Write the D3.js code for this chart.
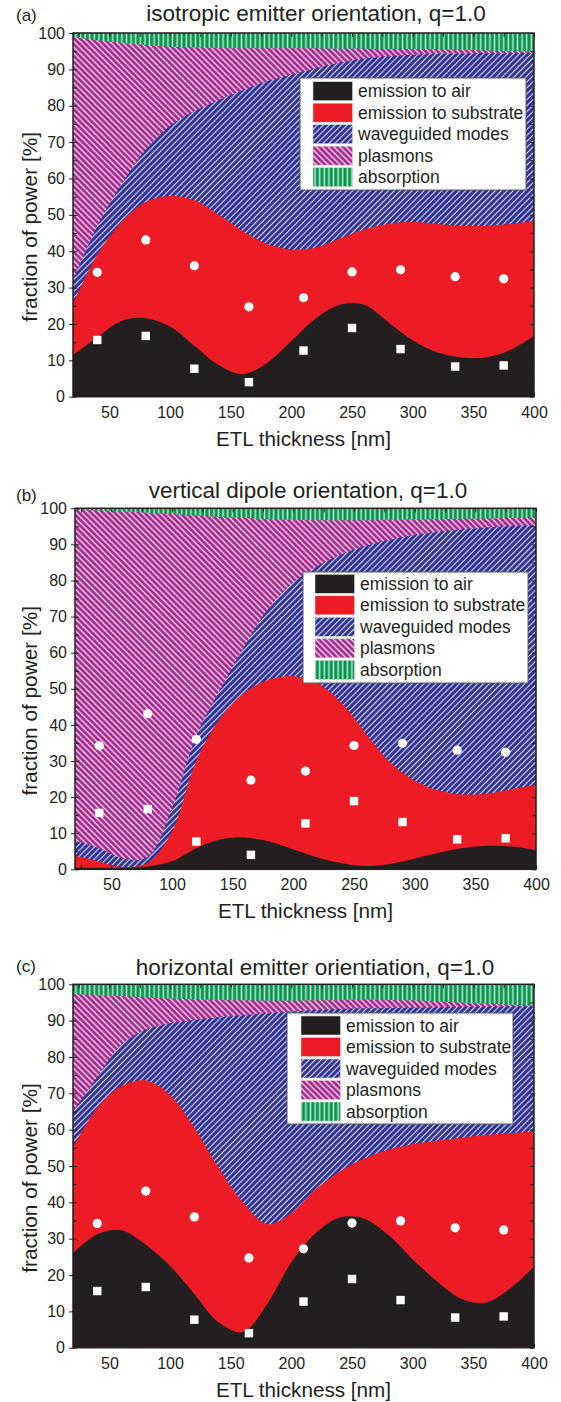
<!DOCTYPE html>
<html>
<head>
<meta charset="utf-8">
<script src="https://cdn.jsdelivr.net/npm/d3@7"></script>
<style>
  body { margin: 0; background: #fff; }
  svg text { font-family: "Liberation Sans", Arial, sans-serif; fill: #231f20; }
</style>
</head>
<body>
<svg id="chart" width="561" height="1402"></svg>
<script>
// ETL thickness sample points (nm)
var thickness = [20, 40, 60, 80, 100, 120, 140, 160, 180, 200, 220, 240, 260, 280, 300, 320, 340, 360, 380, 400];

// cumulative upper edge of each layer (%) - isotropic
var isoAir = [11.5, 16.3, 20.8, 21.6, 19.3, 14, 8.7, 6.2, 9.3, 15.3, 21.5, 25.3, 25.3, 20.5, 15.5, 12.2, 10.8, 10.8, 12.8, 16.7];
var isoSub = [25.5, 39, 48, 53.5, 55.2, 54, 50, 45.5, 42, 40.5, 41, 43.5, 46, 47.5, 48, 47.5, 47, 47, 47.5, 48.3];
var isoWg = [32, 47, 58.5, 68, 74.5, 78.5, 81.5, 84.3, 86.7, 88.5, 90.3, 91.8, 93, 93.6, 94, 94.2, 94.3, 94.4, 94.4, 94.5];
var isoPl = [98.8, 98, 97.3, 96.7, 96.2, 96, 95.9, 95.8, 95.8, 95.8, 95.8, 95.7, 95.7, 95.6, 95.6, 95.5, 95.4, 95.2, 95, 94.9];

// vertical dipole
var vertAir = [0.5, 0.4, 0.4, 0.8, 2.2, 5.8, 8.3, 8.8, 7.7, 5.5, 3.3, 1.7, 0.9, 1.5, 3.0, 4.6, 5.9, 6.5, 6.3, 5.3];
var vertSub = [3.8, 2.1, 0.6, 1.8, 10.5, 30, 42, 49, 52.5, 53.5, 51.5, 46, 37.5, 29.5, 24.5, 21.8, 20.7, 21, 22.2, 23.4];
var vertWg = [7.9, 5.8, 2.9, 3.5, 17, 37, 50, 62, 72.5, 79.5, 84, 87.3, 89.6, 91.3, 92.6, 93.5, 94.2, 94.7, 95.1, 95.4];
var vertPl = [99.6, 99.4, 99.1, 98.8, 98.4, 98, 97.6, 97.3, 97, 96.8, 96.7, 96.7, 96.7, 96.8, 96.9, 97, 97.1, 97.2, 97.3, 97.4];

// horizontal emitter
var horAir = [26, 31.2, 32.3, 28.3, 22.5, 14.8, 7.0, 4.3, 12, 23.5, 31.5, 35.8, 35.5, 31, 24.3, 18.3, 13.5, 12.4, 16.2, 22.3];
var horSub = [55, 66, 72, 73.5, 69.5, 60.5, 49.5, 40, 34, 37, 43.5, 48.5, 52, 54.5, 56, 57, 57.8, 58.5, 59, 59.5];
var horWg = [65, 74.5, 83.5, 87.5, 89.3, 90.2, 90.9, 91.5, 92, 92.5, 92.9, 93.2, 93.4, 93.5, 93.6, 93.7, 93.8, 93.8, 93.9, 93.9];
var horPl = [97.3, 97, 96.7, 96.4, 96.1, 95.9, 95.7, 95.6, 95.5, 95.5, 95.6, 95.7, 95.8, 95.7, 95.6, 95.3, 95, 94.7, 94.4, 94.2];

// measured points (same in all panels)
var markerX = [40, 80, 120, 165, 210, 250, 290, 335, 375];
var circleY = [34.2, 43.1, 36.0, 24.7, 27.2, 34.3, 34.9, 33.0, 32.4];
var squareY = [15.6, 16.7, 7.7, 4.0, 12.7, 18.9, 13.1, 8.3, 8.6];

var legendLabels = ["emission to air", "emission to substrate", "waveguided modes", "plasmons", "absorption"];
var xTicks = [50, 100, 150, 200, 250, 300, 350, 400];
var yTicks = [0, 10, 20, 30, 40, 50, 60, 70, 80, 90, 100];

var svg = d3.select("#chart");
var defs = svg.append("defs");

// hatch patterns
function stripes(id, bg, angle, size, lw, op) {
  var pat = defs.append("pattern")
    .attr("id", id)
    .attr("patternUnits", "userSpaceOnUse")
    .attr("width", size)
    .attr("height", size)
    .attr("patternTransform", "rotate(" + angle + ")");
  pat.append("rect").attr("width", size).attr("height", size).attr("fill", bg);
  pat.append("line")
    .attr("x1", size / 2).attr("y1", -1)
    .attr("x2", size / 2).attr("y2", size + 1)
    .attr("stroke", "#fff")
    .attr("stroke-opacity", op)
    .attr("stroke-width", lw);
}
stripes("wg", "#2e3192", 45, 4.2, 1.1, 0.85);
stripes("pl", "#a7278f", -45, 4.2, 1.3, 0.9);
stripes("ab", "#009448", 0, 4.6, 1.6, 0.75);

var fills = ["#231f20", "#ed1c24", "url(#wg)", "url(#pl)", "url(#ab)"];

var panels = [
  { tag: "(a)", title: "isotropic emitter orientation, q=1.0", layers: [isoAir, isoSub, isoWg, isoPl],
    left: 73, right: 534, top: 33, bottom: 396.7, titleX: 316, titleY: 21, tagY: 21,
    legend: { x: 300, y: 78, w: 226, h: 112, sx: 313, sy: 81.7, tx: 358 } },
  { tag: "(b)", title: "vertical dipole orientation, q=1.0", layers: [vertAir, vertSub, vertWg, vertPl],
    left: 75, right: 536, top: 508.3, bottom: 869.3, titleX: 308, titleY: 498, tagY: 501,
    legend: { x: 303, y: 572, w: 225, h: 111, sx: 315, sy: 574.3, tx: 360 } },
  { tag: "(c)", title: "horizontal emitter orientiation, q=1.0", layers: [horAir, horSub, horWg, horPl],
    left: 73, right: 534, top: 984.3, bottom: 1347.7, titleX: 315, titleY: 975, tagY: 972,
    legend: { x: 287, y: 1013, w: 226, h: 111, sx: 301, sy: 1016, tx: 346 } }
];

panels.forEach(function(p, pi) {
  var x = d3.scaleLinear().domain([20, 400]).range([p.left, p.right]);
  var y = d3.scaleLinear().domain([0, 100]).range([p.bottom, p.top]);

  var clipId = "clip" + pi;
  defs.append("clipPath").attr("id", clipId)
    .append("rect")
    .attr("x", p.left).attr("y", p.top)
    .attr("width", p.right - p.left).attr("height", p.bottom - p.top);

  var plot = svg.append("g").attr("clip-path", "url(#" + clipId + ")");

  // absorption fills everything up to 100 %
  plot.append("rect")
    .attr("x", p.left).attr("y", y(100))
    .attr("width", p.right - p.left).attr("height", y(0) - y(100))
    .attr("fill", fills[4]);

  // paint the stacked layers top-down, each one from 0 up to its upper edge
  for (var i = 3; i >= 0; i--) {
    var area = d3.area()
      .x(function(d, j) { return x(thickness[j]); })
      .y0(y(0))
      .y1(function(d) { return y(d); })
      .curve(d3.curveCatmullRom.alpha(0.5));
    plot.append("path")
      .datum(p.layers[i])
      .attr("d", area)
      .attr("fill", fills[i]);
  }

  // measurement markers
  var pts = markerX.map(function(v, j) { return { x: v, c: circleY[j], s: squareY[j] }; });
  plot.selectAll("circle.m").data(pts).enter().append("circle")
    .attr("cx", d => x(d.x))
    .attr("cy", d => y(d.c))
    .attr("r", 4.6)
    .attr("fill", "#fff");
  plot.selectAll("rect.m").data(pts).enter().append("rect")
    .attr("x", d => x(d.x) - 4.2)
    .attr("y", d => y(d.s) - 4.2)
    .attr("width", 8.4)
    .attr("height", 8.4)
    .attr("fill", "#fff");

  // axes
  var ax = svg.append("g");

  ax.append("g")
    .attr("transform", "translate(" + p.left + ",0)")
    .call(d3.axisLeft(y).tickValues(yTicks).tickSize(4).tickPadding(4))
    .call(g => g.select(".domain").remove());
  ax.append("g")
    .attr("transform", "translate(" + p.left + ",0)")
    .call(d3.axisLeft(y).ticks(20).tickSize(-4).tickFormat(""))
    .call(g => g.select(".domain").remove());
  ax.append("g")
    .attr("transform", "translate(" + p.right + ",0)")
    .call(d3.axisRight(y).ticks(20).tickSize(-4).tickFormat(""))
    .call(g => g.select(".domain").remove());

  ax.append("g")
    .attr("transform", "translate(0," + p.bottom + ")")
    .call(d3.axisBottom(x).tickValues(xTicks).tickSize(0).tickPadding(9.6))
    .call(g => g.select(".domain").remove());
  ax.append("g")
    .attr("transform", "translate(0," + p.bottom + ")")
    .call(d3.axisBottom(x).tickValues(d3.range(25, 401, 25)).tickSize(-4).tickFormat(""))
    .call(g => g.select(".domain").remove());
  ax.append("g")
    .attr("transform", "translate(0," + p.top + ")")
    .call(d3.axisTop(x).tickValues(d3.range(25, 401, 25)).tickSize(-4).tickFormat(""))
    .call(g => g.select(".domain").remove());

  ax.selectAll("text")
    .attr("fill", "#231f20")
    .attr("font-size", 16)
    .style("font-family", "Liberation Sans, Arial, sans-serif");
  ax.selectAll(".tick line").attr("stroke", "#231f20").attr("stroke-width", 1);

  svg.append("rect")
    .attr("x", p.left).attr("y", p.top)
    .attr("width", p.right - p.left).attr("height", p.bottom - p.top)
    .attr("fill", "none")
    .attr("stroke", "#231f20")
    .attr("stroke-width", 1.5);

  // titles
  svg.append("text")
    .attr("x", p.titleX).attr("y", p.titleY)
    .attr("text-anchor", "middle")
    .attr("font-size", 22.5)
    .text(p.title);
  svg.append("text")
    .attr("x", 16).attr("y", p.tagY)
    .attr("font-size", 17)
    .text(p.tag);
  svg.append("text")
    .attr("x", (p.left + p.right) / 2).attr("y", p.bottom + 49)
    .attr("text-anchor", "middle")
    .attr("font-size", 20.7)
    .text("ETL thickness [nm]");
  svg.append("text")
    .attr("transform", "translate(36.5," + ((p.top + p.bottom) / 2 + 12) + ") rotate(-90)")
    .attr("text-anchor", "middle")
    .attr("font-size", 20.8)
    .text("fraction of power [%]");

  // legend
  var L = p.legend;
  var leg = svg.append("g");
  leg.append("rect")
    .attr("x", L.x).attr("y", L.y)
    .attr("width", L.w).attr("height", L.h)
    .attr("fill", "#fff")
    .attr("stroke", "#5a5a5a")
    .attr("stroke-width", 1);
  legendLabels.forEach(function(lab, k) {
    var yy = L.sy + k * 21.5;
    leg.append("rect")
      .attr("x", L.sx).attr("y", yy)
      .attr("width", 39.5).attr("height", 19)
      .attr("fill", fills[k])
      .attr("stroke", "#d0d0d0")
      .attr("stroke-width", 0.6);
    leg.append("text")
      .attr("x", L.tx).attr("y", yy + 15.5)
      .attr("font-size", 17.5)
      .text(lab);
  });
});
</script>
</body>
</html>
